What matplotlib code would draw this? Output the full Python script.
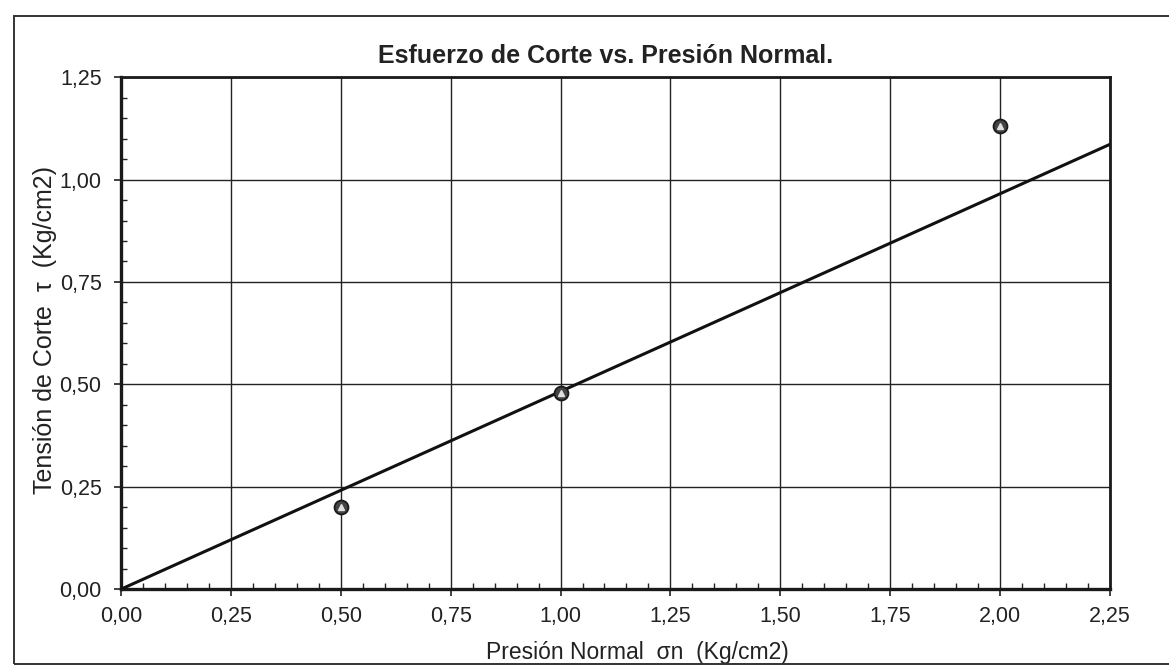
import matplotlib
matplotlib.use("Agg")
import matplotlib.pyplot as plt
from matplotlib.ticker import MultipleLocator, FuncFormatter
from matplotlib.patches import Rectangle

# Ensayo de corte directo: presión normal vs. tensión de corte
sigma_n = [0.50, 1.00, 2.00]          # Kg/cm2
tau = [0.20, 0.48, 1.13]              # Kg/cm2

# Envolvente de falla (recta por el origen)
env_x = [0.00, 2.25]
env_y = [0.00, 1.086]

title = "Esfuerzo de Corte vs. Presión Normal."
xlabel = "Presión Normal  σn  (Kg/cm2)"
ylabel = "Tensión de Corte  τ  (Kg/cm2)"

plt.rcParams["font.family"] = ["Liberation Sans", "DejaVu Sans"]

fig = plt.figure(figsize=(11.69, 6.65), dpi=100)
ax = fig.add_axes([0.1035, 0.114, 0.846, 0.770])

ax.set_xlim(0, 2.25)
ax.set_ylim(0, 1.25)

ax.xaxis.set_major_locator(MultipleLocator(0.25))
ax.yaxis.set_major_locator(MultipleLocator(0.25))
ax.xaxis.set_minor_locator(MultipleLocator(0.05))
ax.yaxis.set_minor_locator(MultipleLocator(0.05))

fmt = FuncFormatter(lambda v, p: f"{v:.2f}".replace(".", ","))
ax.xaxis.set_major_formatter(fmt)
ax.yaxis.set_major_formatter(fmt)

ax.grid(True, which="major", color="#222222", linewidth=1.0)
ax.set_axisbelow(True)

ax.tick_params(which="major", direction="out", length=5, width=1.2,
               labelsize=15.5, colors="#222222")
ax.tick_params(axis="x", which="major", pad=7)
ax.tick_params(axis="y", which="major", pad=9)
ax.tick_params(which="minor", direction="in", length=4, width=1.0,
               colors="#222222")

for side, lw in (("left", 2.4), ("bottom", 2.4), ("right", 2.0), ("top", 2.0)):
    ax.spines[side].set_linewidth(lw)
    ax.spines[side].set_color("#1a1a1a")

ax.plot(env_x, env_y, color="#111111", linewidth=2.2, zorder=3)

ax.plot(sigma_n, tau, linestyle="none", marker="o", markersize=10,
        markerfacecolor="#444444", markeredgecolor="#1a1a1a",
        markeredgewidth=1.3, zorder=4)
ax.plot(sigma_n, tau, linestyle="none", marker="^", markersize=4.5,
        markerfacecolor="#e0e0e0", markeredgecolor="#e0e0e0", zorder=5)

ax.set_title(title, fontsize=18, fontweight="bold", color="#222222",
             pad=10, x=0.49)
ax.set_xlabel(xlabel, fontsize=16.5, color="#222222", labelpad=10, x=0.522)
ax.set_ylabel(ylabel, fontsize=18, color="#222222", labelpad=2, y=0.506)

# Marco exterior del gráfico
frame = Rectangle((14 / 1169, 1 / 665), 1.2, 648 / 665, transform=fig.transFigure,
                  fill=False, edgecolor="#333333", linewidth=1.4, clip_on=False)
fig.patches.append(frame)

fig.savefig("out.png", dpi=100, facecolor="white")
